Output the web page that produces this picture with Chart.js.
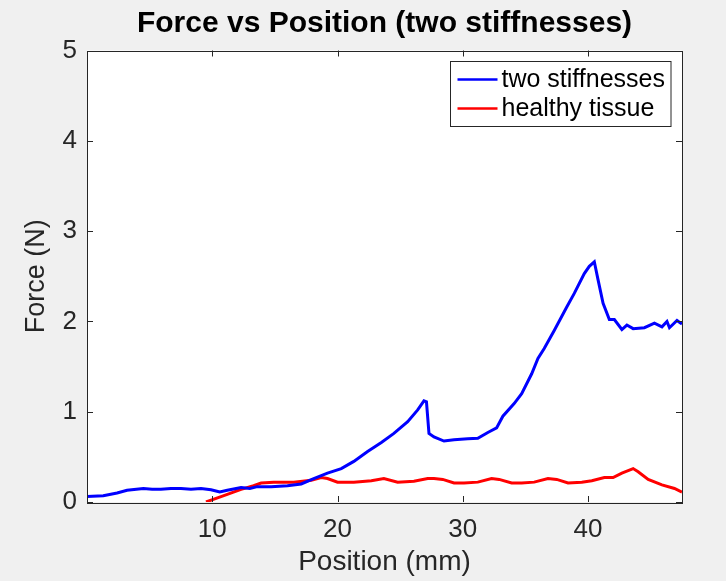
<!DOCTYPE html>
<html>
<head>
<meta charset="utf-8">
<script src="https://cdn.jsdelivr.net/npm/chart.js@4.4.1/dist/chart.umd.min.js"></script>
<style>
  html, body { margin: 0; padding: 0; background: #f0f0f0; }
  #wrap { width: 726px; height: 581px; position: relative; }
</style>
</head>
<body>
<div id="wrap"><canvas id="myChart"></canvas></div>
<script>
// force curve with two stiffness regions (blue)
const stiffPos = [0, 1.3, 2.4, 3.2, 4.5, 5.2, 5.9, 6.7, 7.5, 8.3, 9.1, 9.9, 10.6, 11.2, 12.3, 13.0, 13.6, 14.7,
  16.0, 17.1, 18.1, 19.2, 20.3, 21.3, 22.4, 23.5, 24.5, 25.6, 26.4, 26.9, 27.1, 27.3, 27.7, 28.5, 29.3,
  30.4, 31.2, 32.0, 32.7, 33.2, 34.1, 34.7, 35.5, 36.0, 36.5, 37.3, 38.3, 38.9, 39.7, 40.1, 40.5,
  40.8, 41.2, 41.7, 42.1, 42.7, 43.1, 43.6, 44.5, 45.3, 45.9, 46.3, 46.5, 47.1, 47.5];
const stiffForce = [0.06, 0.07, 0.10, 0.13, 0.15, 0.14, 0.14, 0.15, 0.15, 0.14, 0.15, 0.135, 0.11, 0.13, 0.16, 0.15, 0.17, 0.17,
  0.18, 0.20, 0.26, 0.32, 0.37, 0.45, 0.56, 0.66, 0.76, 0.89, 1.02, 1.12, 1.11, 0.76, 0.72, 0.675, 0.69,
  0.70, 0.705, 0.77, 0.82, 0.95, 1.09, 1.20, 1.42, 1.59, 1.70, 1.90, 2.16, 2.31, 2.53, 2.61, 2.66,
  2.46, 2.20, 2.02, 2.02, 1.91, 1.96, 1.92, 1.93, 1.98, 1.94, 2.00, 1.93, 2.01, 1.97];

// healthy tissue curve (red)
const healthyPos = [9.5, 10.7, 12.3, 13.3, 13.9, 14.9, 16.5, 17.9, 18.7, 19.2, 20.0, 21.3, 22.7, 23.7, 24.8,
  26.1, 27.2, 27.7, 28.4, 29.3, 30.1, 31.2, 32.3, 32.9, 33.9, 34.7, 35.7, 36.8, 37.5, 38.4, 39.5,
  40.3, 41.3, 42.0, 42.7, 43.6, 44.0, 44.8, 45.9, 46.9, 47.5];
const healthyForce = [0.0, 0.06, 0.14, 0.18, 0.21, 0.22, 0.22, 0.24, 0.27, 0.26, 0.22, 0.22, 0.235, 0.26, 0.22,
  0.23, 0.26, 0.26, 0.25, 0.21, 0.21, 0.22, 0.26, 0.25, 0.21, 0.21, 0.22, 0.26, 0.25, 0.21, 0.22,
  0.235, 0.27, 0.27, 0.32, 0.37, 0.335, 0.25, 0.19, 0.15, 0.11];

const xTicks = [10, 20, 30, 40];
const yTicks = [0, 1, 2, 3, 4, 5];

const seriesLabels = ['two stiffnesses', 'healthy tissue'];
const seriesColors = ['#0000ff', '#ff0000'];

const toPoints = (xs, ys) => xs.map((x, i) => ({ x: x, y: ys[i] }));

const FONT = 'Liberation Sans, Arial, Helvetica, sans-serif';
const INK = '#262626';

// gray figure, white axes, box with inward ticks, legend in the corner
const matlabLook = {
  id: 'matlabLook',
  beforeDraw(chart) {
    const { ctx, chartArea: a } = chart;
    ctx.save();
    ctx.fillStyle = '#f0f0f0';
    ctx.fillRect(0, 0, chart.width, chart.height);
    ctx.fillStyle = '#ffffff';
    ctx.fillRect(a.left, a.top, a.right - a.left, a.bottom - a.top);
    ctx.restore();
  },
  afterDatasetsDraw(chart) {
    const { ctx, chartArea: a, scales } = chart;
    const len = 6;
    ctx.save();
    ctx.strokeStyle = INK;
    ctx.lineWidth = 1;
    ctx.beginPath();
    xTicks.forEach(v => {
      const px = Math.round(scales.x.getPixelForValue(v)) + 0.5;
      ctx.moveTo(px, a.bottom); ctx.lineTo(px, a.bottom - len);
      ctx.moveTo(px, a.top); ctx.lineTo(px, a.top + len);
    });
    yTicks.forEach(v => {
      const py = Math.round(scales.y.getPixelForValue(v)) + 0.5;
      ctx.moveTo(a.left, py); ctx.lineTo(a.left + len, py);
      ctx.moveTo(a.right, py); ctx.lineTo(a.right - len, py);
    });
    ctx.stroke();
    ctx.strokeRect(Math.round(a.left) + 0.5, Math.round(a.top) + 0.5,
      Math.round(a.right - a.left), Math.round(a.bottom - a.top));

    // legend
    ctx.font = '25px ' + FONT;
    const textW = Math.max(...seriesLabels.map(t => ctx.measureText(t).width));
    const lineLen = 40, rowH = 29, edge = 18;
    const boxW = 7 + lineLen + 4 + textW + 6;
    const boxH = edge * 2 + rowH * (seriesLabels.length - 1);
    const bx = Math.round(a.right - 11 - boxW) + 0.5;
    const by = Math.round(a.top + 10) + 0.5;
    ctx.fillStyle = '#ffffff';
    ctx.fillRect(bx, by, boxW, boxH);
    ctx.strokeStyle = INK;
    ctx.strokeRect(bx, by, boxW, boxH);
    ctx.textBaseline = 'middle';
    seriesLabels.forEach((t, i) => {
      const cy = by + edge + rowH * i;
      ctx.strokeStyle = seriesColors[i];
      ctx.lineWidth = 2.5;
      ctx.beginPath();
      ctx.moveTo(bx + 7, cy); ctx.lineTo(bx + 7 + lineLen, cy);
      ctx.stroke();
      ctx.fillStyle = '#000000';
      ctx.fillText(t, bx + 7 + lineLen + 4, cy + 1);
    });
    ctx.restore();
  }
};

window.addEventListener('DOMContentLoaded', () => {
  const data = {
    datasets: [{
      label: seriesLabels[0],
      data: toPoints(stiffPos, stiffForce),
      borderColor: seriesColors[0],
      borderWidth: 3,
      pointRadius: 0,
      tension: 0
    }, {
      label: seriesLabels[1],
      data: toPoints(healthyPos, healthyForce),
      borderColor: seriesColors[1],
      borderWidth: 3,
      pointRadius: 0,
      tension: 0
    }]
  };

  const config = {
    type: 'line',
    data: data,
    options: {
      responsive: true,
      maintainAspectRatio: false,
      animation: false,
      events: [],
      layout: { padding: { left: 0, right: 44, top: 0, bottom: 0 } },
      plugins: {
        legend: { display: false },
        tooltip: { enabled: false },
        title: {
          display: true,
          text: 'Force vs Position (two stiffnesses)',
          fullSize: false,
          color: '#000000',
          font: { family: FONT, size: 30, weight: 'bold' },
          padding: { top: 6, bottom: 8.5 }
        }
      },
      scales: {
        x: {
          type: 'linear',
          min: 0,
          max: 47.5,
          afterBuildTicks: s => { s.ticks = xTicks.map(v => ({ value: v })); },
          afterFit: s => { s.height = 79; },
          grid: { display: false, drawTicks: false },
          border: { display: false },
          ticks: { color: INK, font: { family: FONT, size: 26 }, padding: 12, maxRotation: 0 },
          title: {
            display: true,
            text: 'Position (mm)',
            color: INK,
            font: { family: FONT, size: 28 },
            padding: { top: 0, bottom: 2 }
          }
        },
        y: {
          min: 0,
          max: 5,
          afterBuildTicks: s => { s.ticks = yTicks.map(v => ({ value: v })); },
          afterFit: s => { s.width = 87; },
          grid: { display: false, drawTicks: false },
          border: { display: false },
          ticks: { color: INK, font: { family: FONT, size: 26 }, padding: 10 },
          title: {
            display: true,
            text: 'Force (N)',
            color: INK,
            font: { family: FONT, size: 27 },
            padding: { top: 20, bottom: 0 }
          }
        }
      }
    },
    plugins: [matlabLook]
  };

  new Chart(document.getElementById('myChart'), config);
});
</script>
</body>
</html>
